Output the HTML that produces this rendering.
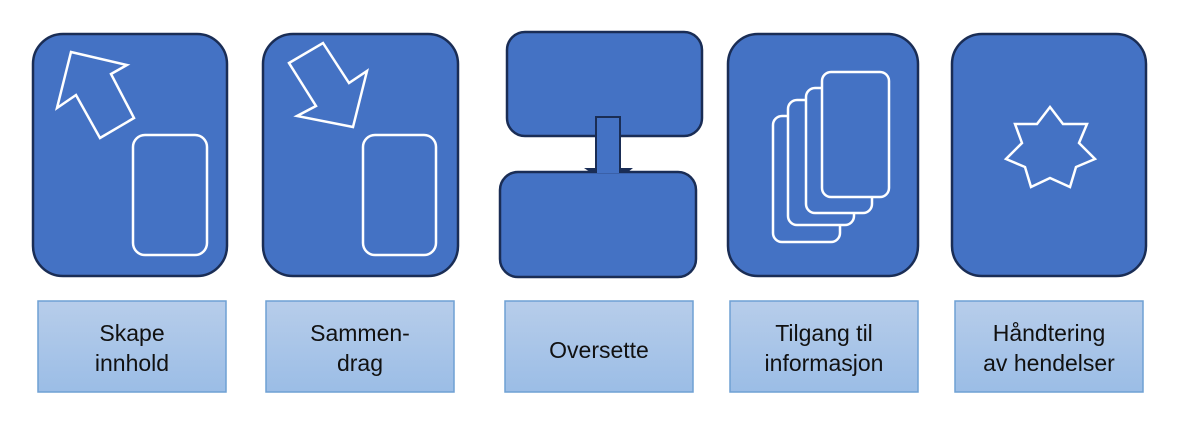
<!DOCTYPE html>
<html><head><meta charset="utf-8"><style>
html,body{margin:0;padding:0;background:#fff;width:1190px;height:434px;overflow:hidden}
</style></head><body>
<svg width="1190" height="434" viewBox="0 0 1190 434" xmlns="http://www.w3.org/2000/svg">
<defs>
<linearGradient id="lg" x1="0" y1="0" x2="0" y2="1">
<stop offset="0" stop-color="#b7cdea"/><stop offset="1" stop-color="#9bbde6"/>
</linearGradient>
</defs>
<g fill="#4472c4" stroke="#1a2d55" stroke-width="2.5">
<rect x="33" y="34" width="194" height="242" rx="30"/>
<rect x="263" y="34" width="195" height="242" rx="30"/>
<rect x="507" y="32" width="195" height="104" rx="18"/>
<rect x="500" y="172" width="196" height="105" rx="18"/>
<rect x="596" y="117" width="24" height="53" stroke-width="2"/>
<rect x="728" y="34" width="190" height="242" rx="30"/>
<rect x="952" y="34" width="194" height="242" rx="30"/>
</g>
<polygon points="584,168 633,168 628,172 590,172" fill="#1a2d55"/>
<rect x="597" y="165" width="22" height="8" fill="#4472c4"/>
<g fill="none" stroke="#fff" stroke-width="2.5" stroke-linejoin="miter">
<polygon points="71,52 127,65 111,74 134,118 100,138 76,95 57,108"/>
<rect x="133" y="135" width="74" height="120" rx="12"/>
<polygon points="289,63 323,43 349,83 367,71 353,127 297,116 316,106"/>
<rect x="363" y="135" width="73" height="120" rx="12"/>
</g>
<g fill="#4472c4" stroke="#fff" stroke-width="2.5">
<rect x="773" y="116" width="67" height="126" rx="9"/>
<rect x="788" y="100" width="66" height="125" rx="9"/>
<rect x="806" y="88" width="66" height="125" rx="9"/>
<rect x="822" y="72" width="67" height="125" rx="9"/>
<polygon fill="none" points="1050,107 1063,124 1087,124 1079,143 1095,159 1076,167 1070,187 1050,178 1031,187 1025,167 1006,159 1022,143 1015,124 1037,124"/>
</g>
<g fill="url(#lg)" stroke="#6fa0d4" stroke-width="1.5">
<rect x="38" y="301" width="188" height="91"/>
<rect x="266" y="301" width="188" height="91"/>
<rect x="505" y="301" width="188" height="91"/>
<rect x="730" y="301" width="188" height="91"/>
<rect x="955" y="301" width="188" height="91"/>
</g>
<g font-family="Liberation Sans, Arial, sans-serif" font-size="23" fill="#111" text-anchor="middle">
<text x="132" y="341">Skape</text><text x="132" y="371">innhold</text>
<text x="360" y="341">Sammen-</text><text x="360" y="371">drag</text>
<text x="599" y="358">Oversette</text>
<text x="824" y="341">Tilgang til</text><text x="824" y="371">informasjon</text>
<text x="1049" y="341">Håndtering</text><text x="1049" y="371">av hendelser</text>
</g>
</svg>
</body></html>
